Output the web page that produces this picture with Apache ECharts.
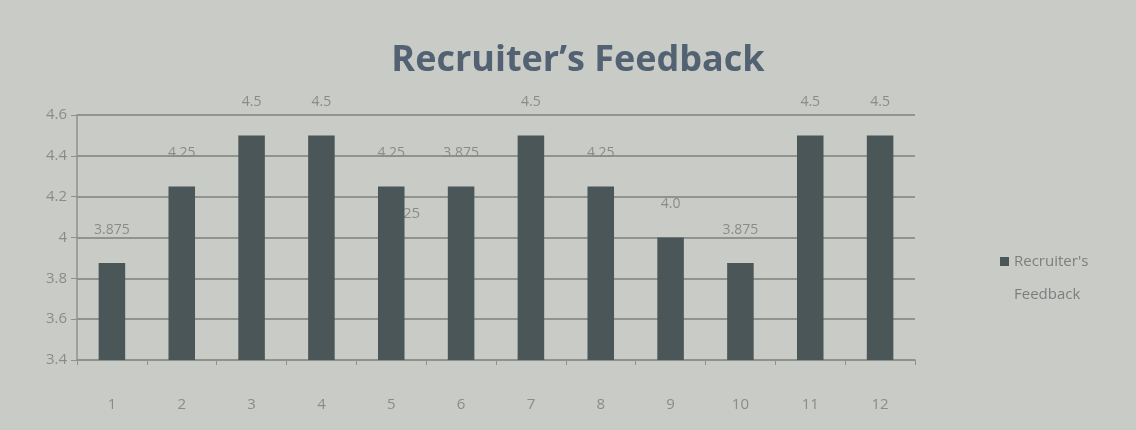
<!DOCTYPE html>
<html><head><meta charset="utf-8">
<script src="https://cdn.jsdelivr.net/npm/echarts@6/dist/echarts.min.js"></script>
<style>html,body{margin:0;padding:0;background:#c9cbc6;}#c{width:1136px;height:430px;}</style>
</head><body><div id="c"></div>
<script>
var categories = ['1','2','3','4','5','6','7','8','9','10','11','12'];
var values = [3.875, 4.25, 4.5, 4.5, 4.25, 4.25, 4.5, 4.25, 4.0, 3.875, 4.5, 4.5];
var valueLabels = ['3.875','4.25','4.5','4.5','4.25','3.875','4.5','4.25','4.0','3.875','4.5','4.5'];
var yTicks = [3.4, 3.6, 3.8, 4, 4.2, 4.4, 4.6];
var seriesName = "Recruiter's Feedback";

var chart = echarts.init(document.getElementById('c'));
chart.setOption({
  backgroundColor: '#c9cbc6',
  animation: false,
  title: {
    text: "Recruiter\u2019s Feedback", left: 573, top: 38, textAlign: 'center',
    textStyle: {fontFamily: 'Open Sans', fontSize: 36, fontWeight: 'bold', color: '#526273'}
  },
  legend: {
    data: [seriesName], left: 995, top: 207, orient: 'vertical',
    icon: 'rect', itemWidth: 9, itemHeight: 9, itemGap: 4,
    formatter: function(){ return "\nRecruiter's\nFeedback"; },
    textStyle: {fontFamily: 'Open Sans', fontSize: 15, color: '#7c7f80', lineHeight: 33}
  },
  grid: {left: 77, right: 221, top: 115, bottom: 70},
  xAxis: {
    type: 'category', data: categories,
    axisLine: {lineStyle: {color: '#8f918d', width: 1.5}},
    axisTick: {show: true, length: 5, lineStyle: {color: '#8f918d'}},
    axisLabel: {fontFamily: 'Open Sans', fontSize: 15, color: '#8a8c88', margin: 37}
  },
  yAxis: {
    type: 'value', min: 3.4, max: 4.6, interval: 0.2,
    axisLine: {show: true, lineStyle: {color: '#8f918d', width: 1.5}},
    axisTick: {show: true, length: 6, lineStyle: {color: '#8f918d'}},
    axisLabel: {fontFamily: 'Open Sans', fontSize: 15, color: '#8a8c88', margin: 10,
      formatter: function(v){ var r = Math.round(v*10)/10; return yTicks.indexOf(r) >= 0 ? String(r) : ''; }},
    splitLine: {lineStyle: {color: '#7e807c', width: 1.5}}
  },
  graphic: [{type: 'text', left: 403, top: 206, style: {text: '25', font: '15px "Open Sans"', fill: '#8a8c88'}}],
  series: [{
    name: seriesName, type: 'bar', data: values, barWidth: '38%',
    itemStyle: {color: '#4b5659'},
    label: {show: true, position: 'top', distance: 26,
      formatter: function(p){ return valueLabels[p.dataIndex]; },
      fontFamily: 'Open Sans', fontSize: 14, color: '#8a8c88'}
  }]
});
</script></body></html>
